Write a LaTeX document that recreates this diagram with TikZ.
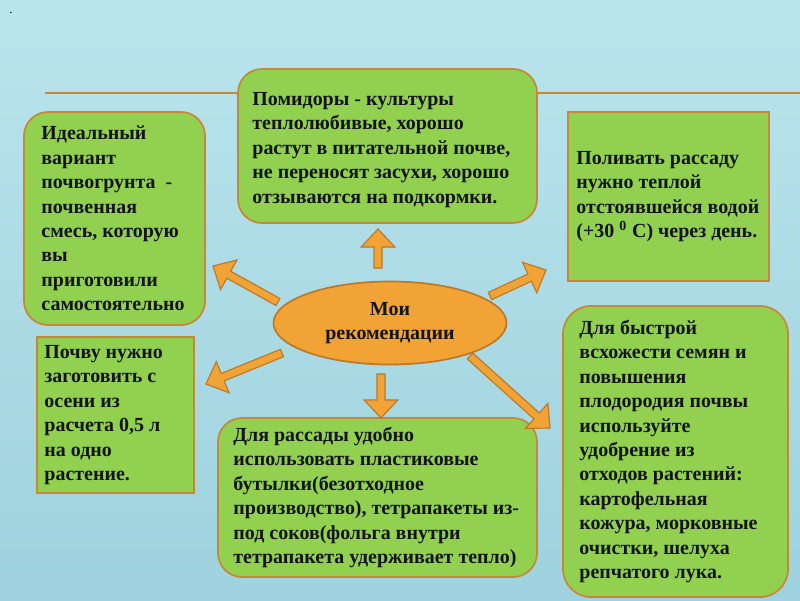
\documentclass[tikz,border=0pt]{standalone}
\usepackage{fontspec}
\setmainfont{Liberation Serif}
\usepackage{tikz}
\usetikzlibrary{calc}
\usetikzlibrary{shapes.geometric}
\definecolor{bgtop}{RGB}{186,228,236}
\definecolor{bgbottom}{RGB}{158,210,222}
\definecolor{boxgreen}{RGB}{146,208,80}
\definecolor{boxline}{RGB}{196,136,56}
\definecolor{recfill}{RGB}{241,163,53}
\definecolor{recline}{RGB}{186,120,40}
\definecolor{textdark}{RGB}{20,20,20}

\begin{document}
\begin{tikzpicture}[x=0.025cm,y=-0.025cm,
  box/.style={draw=boxline,line width=1.2pt,fill=boxgreen,rounded corners=0.6cm},
  sqbox/.style={draw=boxline,line width=1.2pt,fill=boxgreen},
  txt/.style={inner sep=0pt,align=left,text=textdark,font=\bfseries\fontsize{14.2}{17.4}\selectfont},
  blockarrow/.style={draw=recline,line width=0.8pt,fill=recfill,line join=miter}]
  \useasboundingbox (0,0) rectangle (800,600);
  \shade[top color=bgtop,bottom color=bgbottom] (0,0) rectangle (800,600);
  \node[font=\small] (dot) at (11,13) {.};
  \coordinate (rule-l) at (45,93);
  \coordinate (rule-r) at (800,93);
  \draw[boxline,line width=1pt] (rule-l) -- (rule-r);

  %boxes
  \node[box,minimum width=7.475cm,minimum height=3.85cm] (tomato) at (387.5,146) {};
  \node[box,minimum width=4.525cm,minimum height=5.325cm] (soil) at (114.5,218.5) {};
  \node[sqbox,minimum width=5.025cm,minimum height=4.225cm] (water) at (668.5,196.5) {};
  \node[sqbox,minimum width=3.925cm,minimum height=3.9cm] (autumn) at (115.5,415) {};
  \node[box,minimum width=7.975cm,minimum height=3.975cm] (bottles) at (377.5,497.5) {};
  \node[box,rounded corners=0.7cm,minimum width=5.625cm,minimum height=7.275cm] (fertilizer) at (675.5,451.5) {};

  %centre
  \node[ellipse,draw=recline,line width=1.2pt,fill=recfill,inner sep=0pt,minimum width=5.825cm,minimum height=2.075cm,txt,align=center] (rec) at (390,323) {Мои\\рекомендации};

  %arrows
  \coordinate (up-t) at (378,268);   \coordinate (up-h) at (378,229);
  \coordinate (ul-t) at (278,302);   \coordinate (ul-h) at (213,266);
  \coordinate (ur-t) at (490,296);   \coordinate (ur-h) at (546,270);
  \coordinate (ll-t) at (282,353);   \coordinate (ll-h) at (206,384);
  \coordinate (dn-t) at (381,374);   \coordinate (dn-h) at (381,418);
  \coordinate (lr-t) at (470,356);   \coordinate (lr-h) at (550,428);
  \foreach \a/\b in {up-t/up-h,ul-t/ul-h,ur-t/ur-h,ll-t/ll-h,dn-t/dn-h,lr-t/lr-h}{
    \coordinate (base) at ($(\b)!0.45cm!(\a)$);
    \filldraw[blockarrow] ($(\a)!0.1cm!90:(\b)$) -- ($(base)!0.1cm!90:(\b)$) -- ($(base)!0.42cm!90:(\b)$) -- (\b)
      -- ($(base)!0.42cm!-90:(\b)$) -- ($(base)!0.1cm!-90:(\b)$) -- ($(\a)!0.1cm!-90:(\b)$) -- cycle;
  }

  %texts
  \node[txt,at=(tomato.west),right=0.375cm,yshift=-0.1cm] (tomato-text) {Помидоры - культуры\\теплолюбивые, хорошо\\растут в питательной почве,\\не переносят засухи, хорошо\\отзываются на подкормки.};
  \node[txt,at=(soil.west),right=0.45cm] (soil-text) {Идеальный\\вариант\\почвогрунта~ -\\почвенная\\смесь, которую\\вы\\приготовили\\самостоятельно};
  \node[txt,at=(water.west),right=0.225cm] (water-text) {Поливать рассаду\\нужно теплой\\отстоявшейся водой\\(+30 \textsuperscript{0} С) через день.};
  \node[txt,at=(autumn.west),right=0.2cm] (autumn-text) {Почву нужно\\заготовить с\\осени из\\расчета 0,5 л\\на одно\\растение.};
  \node[txt,at=(bottles.west),right=0.4cm] (bottles-text) {Для рассады удобно\\использовать пластиковые\\бутылки(безотходное\\производство), тетрапакеты из-\\под соков(фольга внутри\\тетрапакета удерживает тепло)};
  \node[txt,at=(fertilizer.west),right=0.425cm] (fertilizer-text) {Для быстрой\\всхожести семян и\\повышения\\плодородия почвы\\используйте\\удобрение из\\отходов растений:\\картофельная\\кожура, морковные\\очистки, шелуха\\репчатого лука.};
\end{tikzpicture}
\end{document}
